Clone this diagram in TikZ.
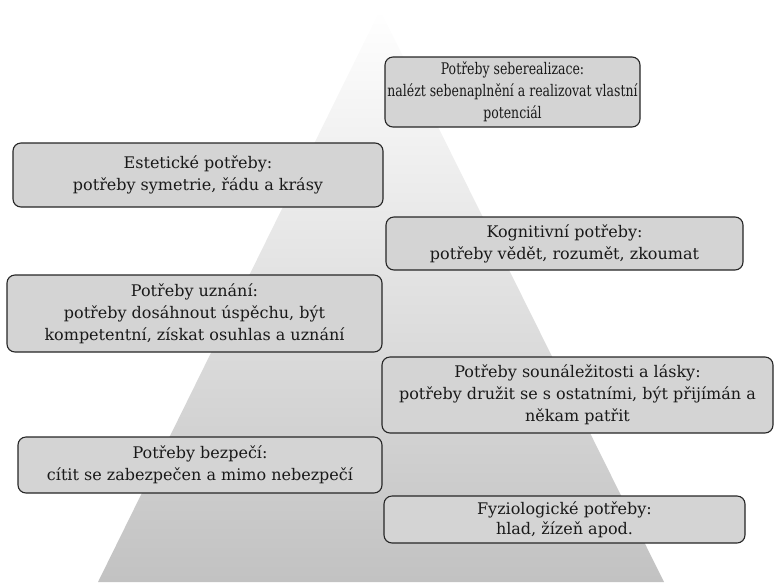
\documentclass[tikz,border=0pt]{standalone}
\usepackage{fontspec}
\setmainfont{DejaVu Serif}
\newfontfamily\condserif[FakeStretch=0.78]{DejaVu Serif}
\begin{document}
\begin{tikzpicture}[x=1pt,y=-1pt,
  needbox/.style={draw=black!85, line width=1.1pt, rounded corners=8pt,
    fill=black!17, inner sep=0pt, align=center,
    font=\fontsize{16}{22}\selectfont, text=black!90},
]
\useasboundingbox (0,0) rectangle (776,582);
% pyramid background
\shade[top color=white, bottom color=black!24, draw=none]
  (380,10) -- (664,582) -- (98,582) -- cycle;

\node[needbox, minimum width=255pt, minimum height=70pt,
      font=\condserif\fontsize{16}{22}\selectfont] (self) at (512.5,92)
  {Potřeby seberealizace:\\nalézt sebenaplnění a realizovat vlastní\\potenciál};
\node[needbox, minimum width=370pt, minimum height=64pt] (aest) at (198,175)
  {Estetické potřeby:\\potřeby symetrie, řádu a krásy};
\node[needbox, minimum width=357pt, minimum height=53pt] (cogn) at (564.5,243.5)
  {Kognitivní potřeby:\\potřeby vědět, rozumět, zkoumat};
\node[needbox, minimum width=375pt, minimum height=77pt] (esteem) at (194.5,313.5)
  {Potřeby uznání:\\potřeby dosáhnout úspěchu, být\\kompetentní, získat osuhlas a uznání};
\node[needbox, minimum width=391pt, minimum height=76pt] (love) at (577.5,395)
  {Potřeby sounáležitosti a lásky:\\potřeby družit se s ostatními, být přijímán a\\někam patřit};
\node[needbox, minimum width=364pt, minimum height=56pt] (safe) at (200,465)
  {Potřeby bezpečí:\\cítit se zabezpečen a mimo nebezpečí};
\node[needbox, minimum width=361pt, minimum height=47pt,
      font=\fontsize{16}{20}\selectfont] (phys) at (564.5,519.5)
  {Fyziologické potřeby:\\hlad, žízeň apod.};
\end{tikzpicture}
\end{document}
